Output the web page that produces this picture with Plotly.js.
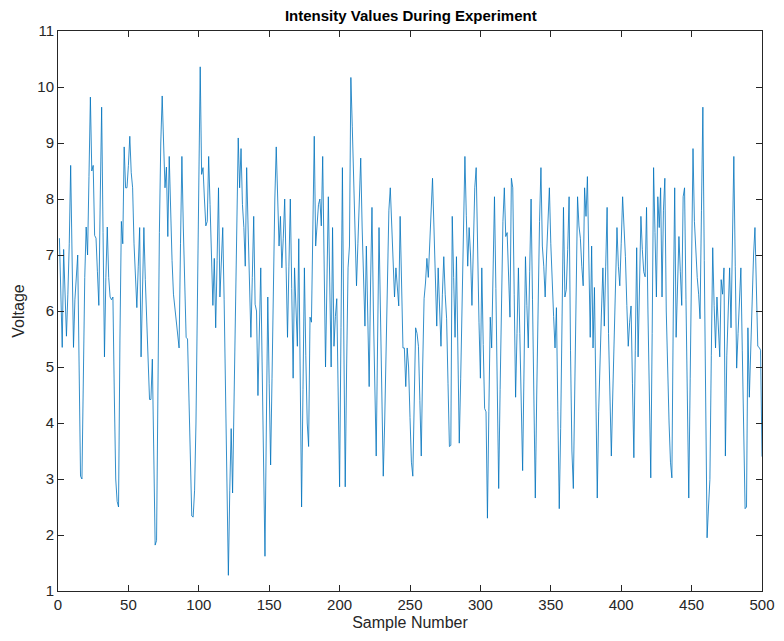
<!DOCTYPE html>
<html>
<head>
<meta charset="utf-8">
<script src="https://cdn.plot.ly/plotly-3.0.1.min.js"></script>
<style>html,body{margin:0;padding:0;background:#fff;}#chart{width:784px;height:641px;}</style>
</head>
<body>
<div id="chart"></div>
<script>
const chartTitle = "Intensity Values During Experiment";
const xLabel = "Sample Number";
const yLabel = "Voltage";
const xTicks = [0,50,100,150,200,250,300,350,400,450,500];
const yTicks = [1,2,3,4,5,6,7,8,9,10,11];

const voltage = [
7.3,6.2,5.35,7.1,6.2,5.55,6.3,7.2,8.6,6.8,
5.35,6.2,6.7,7.0,5.0,3.05,3.0,5.2,6.6,7.5,
7.0,8.4,9.82,8.5,8.6,7.35,7.3,6.7,6.1,8.0,
9.64,7.4,5.18,6.6,7.5,6.6,6.25,6.2,6.25,4.5,
3.0,2.6,2.5,5.5,7.6,7.2,8.93,8.2,8.2,8.6,
9.12,8.47,8.2,7.2,6.5,6.06,6.8,7.49,5.18,6.4,
7.49,6.56,5.8,4.9,4.42,4.42,5.14,3.5,1.82,1.9,
5.0,7.4,9.0,9.84,9.0,8.2,8.57,7.33,8.76,7.69,
6.9,6.3,6.06,5.8,5.6,5.34,7.2,8.76,7.5,6.5,
5.53,5.5,4.3,3.0,2.34,2.32,2.8,4.0,6.5,8.5,
10.36,8.44,8.56,8.0,7.52,7.6,8.76,7.9,6.9,6.1,
6.94,5.7,6.9,8.2,6.25,6.8,7.49,6.2,4.49,3.0,
1.28,2.8,3.9,2.75,4.5,6.3,7.9,9.09,8.2,8.9,
7.9,7.49,6.8,8.56,7.5,6.5,5.53,6.6,7.69,6.12,
6.0,4.49,5.6,6.77,5.0,3.2,1.62,4.0,6.25,4.7,
3.25,4.8,6.6,8.0,8.93,8.0,7.16,7.69,6.77,7.3,
8.0,6.8,5.53,6.8,8.0,6.4,4.8,6.77,6.0,5.37,
7.29,4.9,2.5,4.6,6.77,5.2,4.0,3.58,5.89,5.8,
7.5,9.12,7.16,7.6,7.9,8.0,7.52,8.76,6.9,5.0,
6.5,8.04,6.5,5.0,7.49,5.37,5.9,6.22,4.5,2.86,
5.7,8.56,5.5,2.86,5.0,6.77,7.16,10.17,9.3,8.3,
7.4,6.45,7.2,8.0,8.73,7.5,6.5,5.73,7.16,5.9,
4.65,6.5,7.85,6.0,4.5,3.41,5.5,7.49,6.0,4.4,
3.05,4.0,5.5,6.9,7.8,8.2,7.5,6.7,6.25,6.77,
6.4,6.09,7.69,6.5,5.34,5.34,4.65,5.34,5.0,4.1,
3.3,3.05,4.5,5.7,5.6,5.37,4.4,3.41,5.0,6.22,
6.5,6.94,6.6,7.2,7.9,8.37,7.5,6.5,5.73,6.77,
6.0,5.37,6.3,6.97,6.3,5.86,4.7,3.58,3.6,7.69,
6.6,5.53,6.97,5.3,3.64,4.8,6.2,7.5,8.76,7.7,
6.8,7.49,7.0,6.1,7.3,8.2,8.56,7.0,5.8,4.8,
6.77,5.4,4.26,4.2,2.3,4.2,5.89,5.34,6.9,8.04,
6.4,4.5,2.83,4.6,6.2,7.6,8.2,7.33,7.4,6.5,
5.89,8.37,8.2,6.3,4.46,5.6,6.77,5.6,4.3,3.15,
5.0,6.97,6.1,5.34,6.7,8.0,6.2,4.4,2.66,4.5,
6.3,7.6,8.56,7.16,6.8,6.25,7.0,7.7,8.2,7.2,
6.38,5.9,5.34,6.06,4.2,2.47,3.9,6.0,7.85,6.25,
6.38,7.1,8.04,5.3,3.5,2.83,4.5,6.4,8.04,7.52,
7.3,6.8,6.45,8.2,7.69,8.4,7.0,5.53,7.16,5.34,
6.42,4.5,2.66,4.2,5.34,6.0,6.77,5.73,6.8,7.85,
5.6,4.2,3.41,4.5,5.6,6.6,7.49,6.8,6.45,7.2,
8.04,7.5,6.97,6.1,5.37,5.8,6.09,4.7,3.38,5.3,
7.13,5.18,6.4,7.69,7.1,6.7,6.61,7.85,6.0,4.2,
3.02,5.6,8.56,7.4,6.25,8.04,7.49,8.2,6.25,7.8,
8.37,6.0,4.8,4.0,3.3,3.02,6.0,8.2,5.53,6.5,
7.33,6.7,6.1,8.04,8.2,6.2,4.3,2.66,4.8,7.5,
8.9,7.6,7.0,6.6,6.3,5.86,7.8,9.64,6.9,4.0,
1.95,2.5,2.99,5.2,7.13,6.1,5.34,6.25,5.7,5.18,
6.56,6.3,6.77,3.41,5.2,6.0,6.77,5.7,7.2,8.76,
6.8,4.98,5.6,6.2,6.77,5.3,3.8,2.47,2.5,5.7,
4.46,5.34,6.0,7.0,7.49,6.5,5.37,5.35,5.3,3.4
];
const sampleNumber = voltage.map((_, i) => i + 1);

const axisColor = '#262626';
const font = {family: 'Liberation Sans, Arial, Helvetica, sans-serif', size: 15, color: axisColor};

const trace = {
  x: sampleNumber, y: voltage, type: 'scatter', mode: 'lines',
  line: {color: '#0072BD', width: 0.8}, hoverinfo: 'skip'
};

const axisCommon = {
  showgrid: false, zeroline: false, showline: true, linecolor: axisColor, linewidth: 1,
  mirror: 'ticks', ticks: 'inside', ticklen: 6, tickwidth: 1, tickcolor: axisColor,
  tickfont: font
};

const layout = {
  width: 784, height: 641,
  margin: {l: 58, r: 22, t: 31, b: 50},
  paper_bgcolor: '#fff', plot_bgcolor: '#fff',
  font: font,
  showlegend: false,
  title: {text: '<b>' + chartTitle + '</b>', x: 0.524, xanchor: 'center', y: 0.975, yanchor: 'middle',
          font: {family: font.family, size: 15, color: '#000'}},
  xaxis: Object.assign({}, axisCommon, {
    range: [0, 500], tickmode: 'array', tickvals: xTicks, ticktext: xTicks.map(String),
    title: {text: xLabel, font: {family: font.family, size: 16, color: axisColor}, standoff: 4}
  }),
  yaxis: Object.assign({}, axisCommon, {
    range: [1, 11], tickmode: 'array', tickvals: yTicks, ticktext: yTicks.map(String),
    title: {text: yLabel, font: {family: font.family, size: 16, color: axisColor}, standoff: 8}
  })
};

Plotly.newPlot('chart', [trace], layout, {staticPlot: true, displayModeBar: false});
</script>
</body>
</html>
